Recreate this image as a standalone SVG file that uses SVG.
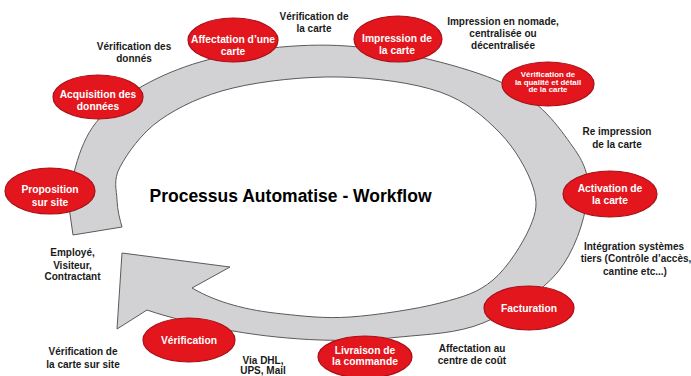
<svg xmlns="http://www.w3.org/2000/svg" width="691" height="376" viewBox="0 0 691 376">
<defs>
<style>
.node ellipse{fill:#e3151d;stroke:#a80f16;stroke-width:1.2}
.nt{font-family:"Liberation Sans",Arial,sans-serif;font-weight:bold;font-size:10.3px;fill:#ffffff;text-anchor:middle}
.nts{font-size:7.9px}
.lbl{font-family:"Liberation Sans",Arial,sans-serif;font-weight:bold;font-size:10px;fill:#1a1a1a;text-anchor:middle}
.title{font-family:"Liberation Sans",Arial,sans-serif;font-weight:bold;font-size:17.5px;fill:#000000;text-anchor:middle}
.band{fill:#d2d2d4;stroke:#5a5a5a;stroke-width:1}
</style>
</defs>
<rect width="691" height="376" fill="#ffffff"/>
<g id="connectors">
<path class="band" d="M73,235 L68,200 C72.5,180.5 78,141 100,118 C122,95 158.8,74 200,62 C241.2,50 296.5,42.5 347,46 C397.5,49.5 465.3,66.2 503,83 C540.7,99.8 559,127.5 573,147 C587,166.5 589.7,179 587,200 C584.3,221 574.3,252.5 557,273 C539.7,293.5 509.2,312.3 483,323 C456.8,333.7 427.2,334.2 400,337 C372.8,339.8 347.8,341 320,340 C292.2,339 261.8,336 233,331 C204.2,326 170,318 147,310 L117,329 L122,253 L230,267 L192,288 C206,296 217.8,300.7 233,305 C248.2,309.3 263.5,312 283,314 C302.5,316 323.8,318.8 350,317 C376.2,315.2 416.2,309.2 440,303 C463.8,296.8 478,292.7 493,280 C508,267.3 523.3,242.5 530,227 C536.7,211.5 538,202.7 533,187 C528,171.3 515.5,148.8 500,133 C484.5,117.2 466.7,101.3 440,92 C413.3,82.7 374.5,77.7 340,77 C305.5,76.3 263,80.8 233,88 C203,95.2 178.8,106.8 160,120 C141.2,133.2 127.2,153.7 120,167 C112.8,180.3 116.7,190 117,200 C117.3,210 120,220 122,227 Z"/>
</g>
<g id="title"><text class="title" x="290.5" y="202">Processus Automatise - Workflow</text></g>
<g id="node-affectation" class="node"><ellipse cx="233" cy="40" rx="45" ry="22"/><text class="nt" x="233" y="43">Affectation d’une</text><text class="nt" x="233" y="55">carte</text></g>
<g id="node-impression" class="node"><ellipse cx="398" cy="39" rx="44" ry="23"/><text class="nt" x="397" y="42">Impression de</text><text class="nt" x="397" y="54">la carte</text></g>
<g id="node-verif-qualite" class="node"><ellipse cx="548" cy="84" rx="46" ry="22"/><text class="nt nts" x="548" y="77">Vérification de</text><text class="nt nts" x="548" y="84.5">la qualité et détail</text><text class="nt nts" x="548" y="92">de la carte</text></g>
<g id="node-activation" class="node"><ellipse cx="610" cy="194" rx="47" ry="23"/><text class="nt" x="610" y="192">Activation de</text><text class="nt" x="610" y="204">la carte</text></g>
<g id="node-facturation" class="node"><ellipse cx="529" cy="308" rx="45" ry="22"/><text class="nt" x="529" y="312">Facturation</text></g>
<g id="node-livraison" class="node"><ellipse cx="365" cy="357" rx="47" ry="21"/><text class="nt" x="365" y="353.5">Livraison de</text><text class="nt" x="365" y="365">la commande</text></g>
<g id="node-verification" class="node"><ellipse cx="189" cy="340" rx="46" ry="22"/><text class="nt" x="189" y="344">Vérification</text></g>
<g id="node-proposition" class="node"><ellipse cx="50" cy="191" rx="45" ry="23"/><text class="nt" x="50" y="193">Proposition</text><text class="nt" x="50" y="205.5">sur site</text></g>
<g id="node-acquisition" class="node"><ellipse cx="98" cy="97" rx="45" ry="22"/><text class="nt" x="98" y="98">Acquisition des</text><text class="nt" x="98" y="110">données</text></g>
<g id="labels">
<text class="lbl" x="134" y="50">Vérification des</text><text class="lbl" x="134" y="62">donnés</text>
<text class="lbl" x="314" y="19.5">Vérification de</text><text class="lbl" x="314" y="31.5">la carte</text>
<text class="lbl" x="503" y="24.5">Impression en nomade,</text><text class="lbl" x="503" y="36.5">centralisée ou</text><text class="lbl" x="503" y="48.5">décentralisée</text>
<text class="lbl" x="617" y="135">Re impression</text><text class="lbl" x="617" y="147.5">de la carte</text>
<text class="lbl" x="634" y="250">Intégration systèmes</text><text class="lbl" x="636" y="262">tiers (Contrôle d’accès,</text><text class="lbl" x="635" y="274.5">cantine etc...)</text>
<text class="lbl" x="472" y="352">Affectation au</text><text class="lbl" x="472" y="364">centre de coût</text>
<text class="lbl" x="263" y="363.5">Via DHL,</text><text class="lbl" x="263" y="374">UPS, Mail</text>
<text class="lbl" x="83" y="355">Vérification de</text><text class="lbl" x="83" y="367.5">la carte sur site</text>
<text class="lbl" x="72.5" y="256">Employé,</text><text class="lbl" x="72.5" y="268.5">Visiteur,</text><text class="lbl" x="72.5" y="280">Contractant</text>
</g>
</svg>
